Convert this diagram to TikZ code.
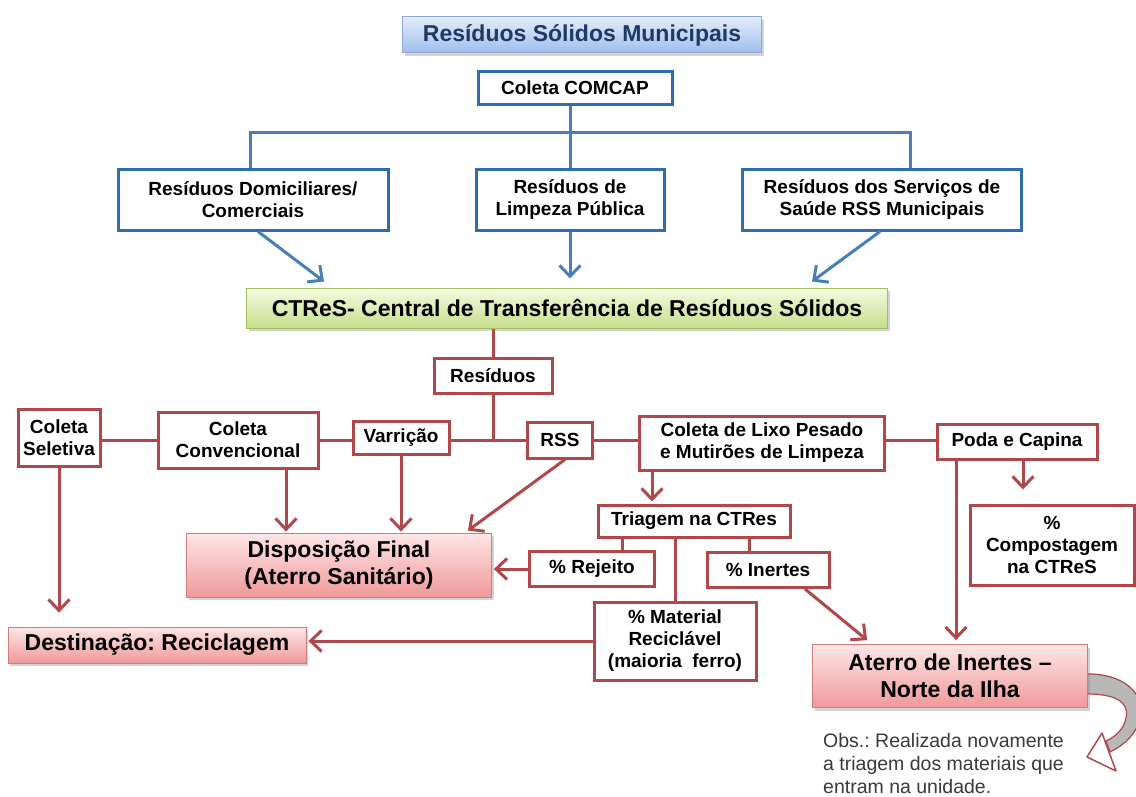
\documentclass[tikz,border=0pt]{standalone}
\usepackage{fontspec}
\setmainfont{Liberation Sans}
\usetikzlibrary{arrows.meta,shadows,calc}
\definecolor{bline}{HTML}{4A7EBB}
\definecolor{bbox}{HTML}{2F6EAE}
\definecolor{rline}{HTML}{B0474B}
\definecolor{tfill1}{HTML}{E3EDFA}
\definecolor{tfill2}{HTML}{9FBDEB}
\definecolor{tborder}{HTML}{8FA9D8}
\definecolor{tnavy}{HTML}{1F3864}
\definecolor{gfill1}{HTML}{F4FADF}
\definecolor{gfill2}{HTML}{C6DF8C}
\definecolor{gborder}{HTML}{A3BF63}
\definecolor{pfill1}{HTML}{FDE6E6}
\definecolor{pfill2}{HTML}{F0999A}
\definecolor{pborder}{HTML}{C0504D}
\definecolor{obsgray}{HTML}{3A3A3A}
\definecolor{arrgray}{HTML}{B8B8B8}
\frenchspacing
\begin{document}
\frenchspacing
\begin{tikzpicture}[x=1pt,y=-1pt,
 boxtext/.style={font=\bfseries\fontsize{19}{22}\selectfont, align=center, inner sep=0pt},
 bluebox/.style={boxtext, draw=bbox, line width=3pt, fill=white},
 redbox/.style={boxtext, draw=rline, line width=3pt, fill=white},
 bigtext/.style={font=\bfseries\fontsize{23}{26.5}\selectfont, align=center, inner sep=0pt},
 shade/.style={drop shadow={opacity=0.35, shadow xshift=2pt, shadow yshift=-3pt}},
 titlebox/.style={bigtext, text=tnavy, draw=tborder, line width=1pt, top color=tfill1, bottom color=tfill2, shade},
 greenbox/.style={bigtext, draw=gborder, line width=1pt, top color=gfill1, bottom color=gfill2, shade},
 pinkbox/.style={bigtext, draw=pborder!75, line width=0.8pt, top color=pfill1, bottom color=pfill2, shade},
 bconn/.style={draw=bline, line width=3pt},
 barrow/.style={bconn, -{Straight Barb[length=11pt,width=21pt]}},
 rconn/.style={draw=rline, line width=3pt},
 rarrow/.style={rconn, -{Straight Barb[length=11pt,width=21pt]}},
 obstext/.style={font=\fontsize{19.5}{23.3}\selectfont, text=obsgray, align=left, inner sep=0pt}
]
\fill[white] (0,0) rectangle (1136,797);
\useasboundingbox (0,0) rectangle (1136,797);

% nodes
\node[titlebox, minimum width=359pt, minimum height=36pt] (title) at (582,35) {Resíduos Sólidos Municipais};
\node[bluebox, minimum width=194pt, minimum height=33pt] (comcap) at (575,88) {Coleta COMCAP};
\node[bluebox, minimum width=270pt, minimum height=60pt] (dom) at (253,200) {Resíduos Domiciliares/\\Comerciais};
\node[bluebox, minimum width=188pt, minimum height=60pt] (limp) at (570,200) {Resíduos de\\Limpeza Pública};
\node[bluebox, minimum width=279pt, minimum height=60pt] (rss1) at (882,200) {Resíduos dos Serviços de\\Saúde RSS Municipais};
\node[greenbox, minimum width=641pt, minimum height=40pt] (ctres) at (567,308) {CTReS- Central de Transferência de Resíduos Sólidos};

\node[redbox, minimum width=118pt, minimum height=35pt] (res) at (493,376) {Resíduos};
\node[redbox, minimum width=82pt, minimum height=57pt] (cs) at (59,438) {Coleta\\Seletiva};
\node[redbox, minimum width=160pt, minimum height=56pt] (cc) at (238,440) {Coleta\\Convencional};
\node[redbox, minimum width=96pt, minimum height=33pt] (var) at (401,438) {Varrição};
\node[redbox, minimum width=65pt, minimum height=36pt] (rss2) at (560,440) {RSS};
\node[redbox, minimum width=245pt, minimum height=54pt] (lixo) at (762,443) {Coleta de Lixo Pesado\\e Mutirões de Limpeza};
\node[redbox, minimum width=160pt, minimum height=35pt] (poda) at (1017,442) {Poda e Capina};
\node[redbox, minimum width=192pt, minimum height=32pt] (triag) at (694,521) {Triagem na CTRes};
\node[redbox, minimum width=125pt, minimum height=35pt] (rej) at (592,569) {\% Rejeito};
\node[redbox, minimum width=122pt, minimum height=35pt] (inert) at (768,570) {\% Inertes};
\node[redbox, minimum width=162pt, minimum height=78pt] (mat) at (675,641) {\% Material\\Reciclável\\(maioria\ \ ferro)};
\node[redbox, minimum width=164pt, minimum height=80pt] (comp) at (1052,545) {\%\\Compostagem\\na CTReS};

\node[pinkbox, minimum width=305pt, minimum height=64pt] (disp) at (339,565) {Disposição Final\\(Aterro Sanitário)};
\node[pinkbox, minimum width=298pt, minimum height=36pt] (dest) at (157,645) {Destinação: Reciclagem};

% curved gray arrow (drawn before the box it leaves)
\filldraw[fill=arrgray, draw=rline, line width=1.2pt]
  (1082,674) .. controls (1125,672) and (1146,695) .. (1140,718)
  .. controls (1136,735) and (1124,745) .. (1110,752)
  -- (1106,741)
  .. controls (1117,736) and (1124,728) .. (1126,718)
  .. controls (1130,702) and (1115,693) .. (1082,694) -- cycle;
\filldraw[fill=white, draw=rline, line width=1.5pt, line join=round]
  (1116,771) -- (1087,757) -- (1102,733) -- cycle;

\node[pinkbox, minimum width=275pt, minimum height=63pt] (aterro) at (950,676) {Aterro de Inertes –\\Norte da Ilha};

\node[obstext, anchor=north west] (obs) at (823,733) {Obs.: Realizada novamente\\a triagem dos materiais que\\entram na unidade.};

% blue connectors
\coordinate (jL) at (250,133);
\coordinate (jR) at (910,133);
\draw[bconn] (limp.north |- comcap.south) -- (limp.north);
\draw[bconn] (jL |- dom.north) -- (jL) -- (jR) -- (jR |- rss1.north);
\draw[barrow] ([xshift=5pt]dom.south) -- ([xshift=78pt,yshift=6pt]ctres.north west);
\draw[barrow] (limp.south) -- ([yshift=9pt]limp.south |- ctres.north);
\draw[barrow] ([xshift=-2pt]rss1.south) -- ([xshift=-76pt,yshift=6pt]ctres.north east);

% red connectors
\coordinate (jr) at (res.south |- 0,440);
\draw[rconn] (res.north |- ctres.south) -- (res.north);
\draw[rconn] (res.south) -- (jr);
\draw[rconn] (cs.east |- jr) -- (cc.west |- jr);
\draw[rconn] (cc.east |- jr) -- (var.west |- jr);
\draw[rconn] (var.east |- jr) -- (rss2.west |- jr);
\draw[rconn] (rss2.east |- jr) -- (lixo.west |- jr);
\draw[rconn] (lixo.east |- jr) -- (poda.west |- jr);

\draw[rarrow] (cs.south) -- ([yshift=14pt]cs.south |- dest.north);
\draw[rarrow] ([xshift=48pt]cc.south) -- ([xshift=48pt,yshift=1pt]cc.south |- disp.north);
\draw[rarrow] (var.south) -- ([yshift=1pt]var.south |- disp.north);
\draw[rarrow] ([xshift=5pt]rss2.south) -- ([xshift=-24pt,yshift=2pt]disp.north east);
\draw[rarrow] ([xshift=-110pt]lixo.south) -- ([xshift=-110pt,yshift=2pt]lixo.south |- triag.north);
\draw[rconn] ([xshift=-72pt]triag.south) -- ([xshift=-72pt]triag.south |- rej.north);
\draw[rconn] (mat.north |- triag.south) -- (mat.north);
\draw[rconn] ([xshift=55pt]triag.south) -- ([xshift=55pt]triag.south |- inert.north);
\draw[rarrow] (rej.west) -- ([xshift=2pt]rej.west -| disp.east);
\draw[rarrow] (mat.west) -- ([xshift=2pt]mat.west -| dest.east);
\draw[rarrow] ([xshift=37pt]inert.south) -- ([xshift=55pt,yshift=4pt]aterro.north west);
\draw[rarrow] ([xshift=-61pt]poda.south) -- ([xshift=-61pt,yshift=4pt]poda.south |- aterro.north);
\draw[rarrow] ([xshift=6pt]poda.south) -- ([xshift=6pt,yshift=14pt]poda.south |- comp.north);
\end{tikzpicture}
\end{document}
